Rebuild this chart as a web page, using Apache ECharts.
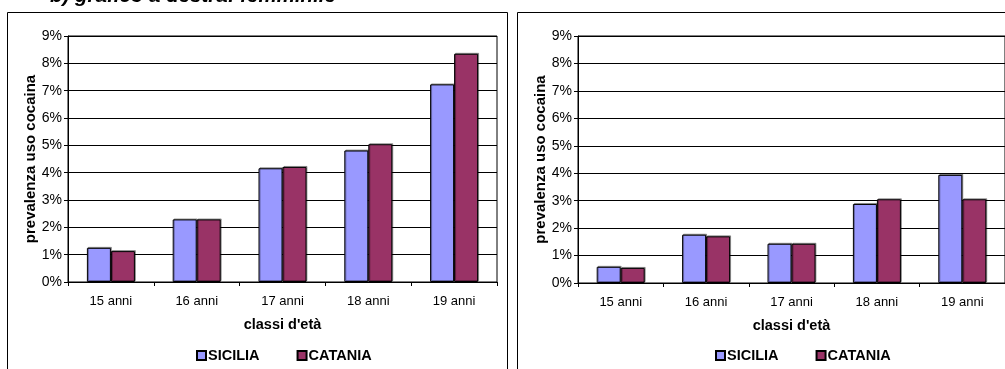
<!DOCTYPE html>
<html>
<head>
<meta charset="utf-8">
<script src="https://cdn.jsdelivr.net/npm/echarts@6/dist/echarts.min.js"></script>
<style>
  html, body { margin: 0; padding: 0; background: #fff; }
  #chart { width: 1005px; height: 369px; }
</style>
</head>
<body>
<div id="chart"></div>
<script>
// classi d'età
var categorie = ['15 anni', '16 anni', '17 anni', '18 anni', '19 anni'];
var yTicks = [0, 1, 2, 3, 4, 5, 6, 7, 8, 9];

// grafico a sinistra (maschile)
var siciliaM = [1.25, 2.29, 4.16, 4.81, 7.23];
var cataniaM = [1.13, 2.29, 4.21, 5.04, 8.35];

// grafico a destra (femminile)
var siciliaF = [0.59, 1.76, 1.43, 2.88, 3.94];
var cataniaF = [0.55, 1.70, 1.43, 3.05, 3.05];

var FONT = '"Liberation Sans", Arial, sans-serif';
var lbl = { color: '#000', fontSize: 13, fontFamily: FONT };

function xAx(grid) {
    return {
        type: 'category',
        gridIndex: grid,
        data: categorie,
        name: "classi d'età",
        nameLocation: 'middle',
        nameGap: 35,
        nameTextStyle: { color: '#000', fontSize: 14.5, fontWeight: 'bold', fontFamily: FONT },
        axisLine: { lineStyle: { color: '#000', width: 1 } },
        axisTick: { show: true, length: 4, lineStyle: { color: '#000' } },
        axisLabel: Object.assign({ margin: 13 }, lbl)
    };
}

function yAx(grid) {
    return {
        type: 'value',
        gridIndex: grid,
        min: yTicks[0],
        max: yTicks[yTicks.length - 1],
        interval: 1,
        name: 'prevalenza uso cocaina',
        nameLocation: 'middle',
        nameGap: 28,
        nameTextStyle: { color: '#000', fontSize: 15, fontWeight: 'bold', fontFamily: FONT },
        axisLine: { show: true, lineStyle: { color: '#000', width: 1 } },
        axisTick: { show: true, length: 4, lineStyle: { color: '#000' } },
        axisLabel: { color: '#000', fontSize: 14, fontFamily: FONT, margin: 6, formatter: '{value}%' },
        splitLine: { show: true, lineStyle: { color: '#000', width: 1 } }
    };
}

function barSerie(name, data, color, idx) {
    return {
        name: name,
        type: 'bar',
        xAxisIndex: idx,
        yAxisIndex: idx,
        data: data,
        barWidth: 24,
        barGap: '0%',
        itemStyle: {
            color: color,
            borderColor: '#000',
            borderWidth: 1,
            shadowColor: 'rgba(0,0,0,0.35)',
            shadowOffsetX: 1,
            shadowOffsetY: -1
        },
        animation: false
    };
}

function legenda(left) {
    return {
        left: left,
        top: 343,
        icon: 'rect',
        itemWidth: 9,
        itemHeight: 9,
        itemGap: 37,
        data: ['SICILIA', 'CATANIA'],
        textStyle: { color: '#000', fontSize: 14.5, fontWeight: 'bold', fontFamily: FONT, padding: [0, 0, 0, -3] }
    };
}

var option = {
    backgroundColor: '#fff',
    animation: false,
    grid: [
        { left: 68, top: 36, width: 429, height: 246, show: true, borderColor: '#000', borderWidth: 1, backgroundColor: '#fff' },
        { left: 578, top: 36, width: 430, height: 247, show: true, borderColor: '#000', borderWidth: 1, backgroundColor: '#fff' }
    ],
    legend: [legenda(191), legenda(710)],
    xAxis: [xAx(0), xAx(1)],
    yAxis: [yAx(0), yAx(1)],
    series: [
        barSerie('SICILIA', siciliaM, '#9999FF', 0),
        barSerie('CATANIA', cataniaM, '#993366', 0),
        barSerie('SICILIA', siciliaF, '#9999FF', 1),
        barSerie('CATANIA', cataniaF, '#993366', 1)
    ],
    graphic: [
        {
            type: 'text',
            left: 50,
            top: -14,
            style: {
                text: 'b) grafico a destra: femminile',
                font: 'italic bold 20.5px ' + FONT,
                fill: '#000'
            }
        },
        {
            type: 'rect',
            shape: { x: 7.5, y: 12.5, width: 500, height: 400 },
            style: { fill: 'none', stroke: '#000', lineWidth: 1 },
            z: 10
        },
        {
            type: 'rect',
            shape: { x: 517.5, y: 12.5, width: 500, height: 400 },
            style: { fill: 'none', stroke: '#000', lineWidth: 1 },
            z: 10
        }
    ]
};

// inizializza echarts
var myChart = echarts.init(document.getElementById('chart'), null, { renderer: 'canvas' });
myChart.setOption(option);
</script>
</body>
</html>
